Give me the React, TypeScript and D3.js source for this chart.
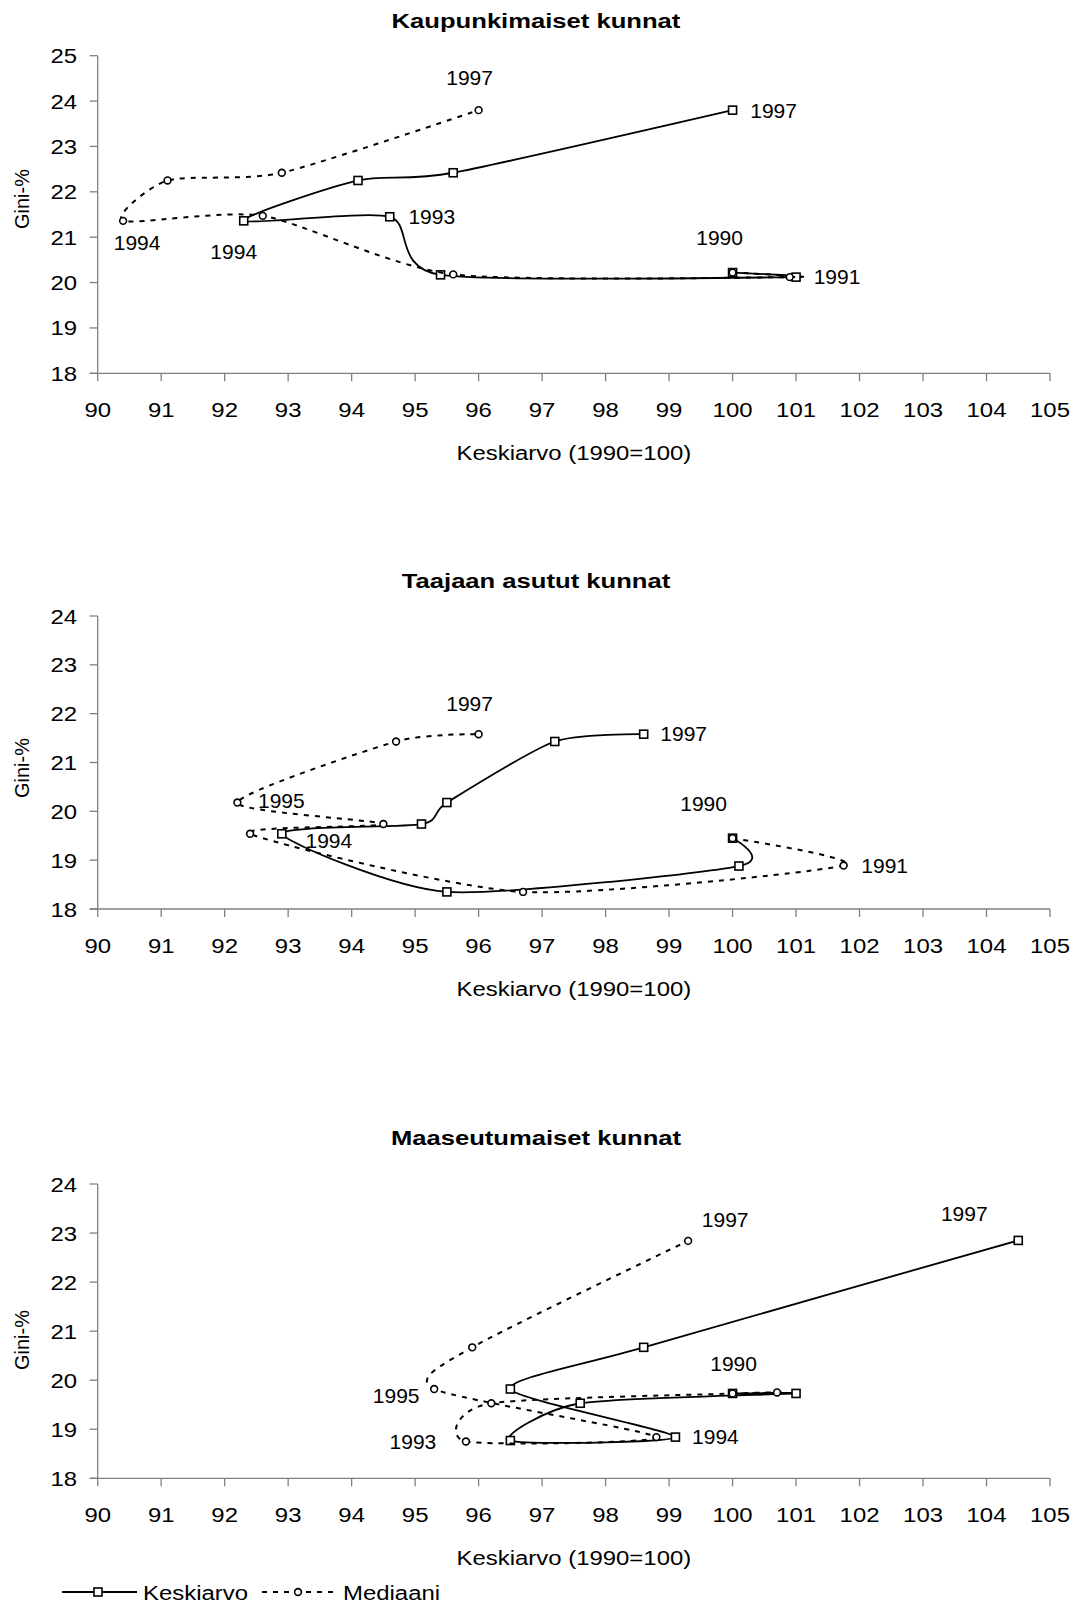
import * as d3 from 'd3';
import React from 'react';

// vuodet 1990..1997, x = keskiarvo (1990=100), y = Gini-%
const years = [1990, 1991, 1992, 1993, 1994, 1995, 1996, 1997];
const xTicks = [90, 91, 92, 93, 94, 95, 96, 97, 98, 99, 100, 101, 102, 103, 104, 105];

// Kaupunkimaiset kunnat
const kaupMeanX = [100, 101, 95.4, 94.6, 92.3, 94.1, 95.6, 100];
const kaupMeanY = [20.22, 20.12, 20.17, 21.45, 21.36, 22.25, 22.42, 23.8];
const kaupMedX = [100, 100.9, 95.6, 92.6, 90.4, 91.1, 92.9, 96];
const kaupMedY = [20.22, 20.12, 20.18, 21.47, 21.36, 22.25, 22.42, 23.8];

// Taajaan asutut kunnat
const taajMeanX = [100, 100.1, 95.5, 92.9, 95.1, 95.5, 97.2, 98.6];
const taajMeanY = [19.45, 18.88, 18.35, 19.54, 19.74, 20.18, 21.43, 21.58];
const taajMedX = [100, 101.75, 96.7, 92.4, 94.5, 92.2, 94.7, 96];
const taajMedY = [19.45, 18.89, 18.35, 19.54, 19.74, 20.18, 21.43, 21.58];

// Maaseutumaiset kunnat
const maasMeanX = [100, 101, 97.6, 96.5, 99.1, 96.5, 98.6, 104.5];
const maasMeanY = [19.73, 19.73, 19.53, 18.77, 18.84, 19.82, 20.67, 22.85];
const maasMedX = [100, 100.7, 96.2, 95.8, 98.8, 95.3, 95.9, 99.3];
const maasMedY = [19.73, 19.75, 19.53, 18.75, 18.84, 19.82, 20.67, 22.84];

type Pt = [number, number];
const zip = (xs: number[], ys: number[]): Pt[] => xs.map((v, i) => [v, ys[i]]);

const FONT = 'Liberation Sans, Arial, sans-serif';
const x = d3.scaleLinear().domain([90, 105]).range([97.7, 1050]);

function SText(props: any) {
  const { x, y, size = 21, sx = 1, anchor = 'middle', bold = false, children } = props;
  return (
    <text
      transform={`translate(${x},${y}) scale(${sx},1)`}
      fontSize={size}
      fontWeight={bold ? 'bold' : 'normal'}
      textAnchor={anchor}
      fill="#000"
    >
      {children}
    </text>
  );
}

function Chart(props: any) {
  const c = props.cfg;
  const y = d3.scaleLinear().domain([18, c.yMax]).range([c.bottom, c.top]);
  const yTicks = d3.range(18, c.yMax + 1);
  const line = d3
    .line<Pt>()
    .x((d) => x(d[0]))
    .y((d) => y(d[1]))
    .curve(d3.curveCardinal.tension(0.3));
  const mean = zip(c.meanX, c.meanY);
  const med = zip(c.medX, c.medY);

  return (
    <g>
      <SText x={536} y={c.titleY} bold sx={1.22}>{c.title}</SText>

      {/* akselit */}
      <line x1={x(90)} x2={x(90)} y1={c.top} y2={c.bottom} stroke="#808080" strokeWidth={1.3} />
      <line x1={x(90) - 8} x2={x(105)} y1={c.bottom} y2={c.bottom} stroke="#808080" strokeWidth={1.3} />
      {yTicks.map((t: number) => (
        <g key={'y' + t}>
          <line x1={x(90) - 8} x2={x(90)} y1={y(t)} y2={y(t)} stroke="#808080" strokeWidth={1.3} />
          <SText x={77} y={y(t) + 7.5} anchor="end" sx={1.14}>{t}</SText>
        </g>
      ))}
      {xTicks.map((t) => (
        <g key={'x' + t}>
          <line x1={x(t)} x2={x(t)} y1={c.bottom} y2={c.bottom + 8} stroke="#808080" strokeWidth={1.3} />
          <SText x={x(t)} y={c.bottom + 44} sx={1.14}>{t}</SText>
        </g>
      ))}
      <SText x={x(97.5)} y={c.bottom + 87} sx={1.14}>Keskiarvo (1990=100)</SText>
      <text
        transform={`translate(29,${c.yTitleY}) rotate(-90)`}
        fontSize={20}
        textAnchor="middle"
        fill="#000"
      >
        Gini-%
      </text>

      {/* Keskiarvo */}
      <path d={line(mean) || ''} fill="none" stroke="#000" strokeWidth={1.8} />
      {mean.map((d, i) => (
        <rect key={'m' + i} x={x(d[0]) - 4} y={y(d[1]) - 4} width={8} height={8}
          fill="#fff" stroke="#000" strokeWidth={1.6} />
      ))}

      {/* Mediaani */}
      <path d={line(med) || ''} fill="none" stroke="#000" strokeWidth={2} strokeDasharray="5 6" />
      {med.map((d, i) => (
        <circle key={'d' + i} cx={x(d[0])} cy={y(d[1])} r={3.4}
          fill="#fff" stroke="#000" strokeWidth={1.6} />
      ))}

      {/* vuosimerkinnät */}
      {c.notes.map((n: any, i: number) => {
        const idx = years.indexOf(n.year);
        const p = n.s === 'mean' ? mean[idx] : med[idx];
        return (
          <SText key={'n' + i} x={x(p[0]) + n.dx} y={y(p[1]) + n.dy + 7.5}>
            {n.label || n.year}
          </SText>
        );
      })}
    </g>
  );
}

const charts = [
  {
    title: 'Kaupunkimaiset kunnat', yMax: 25, top: 55.7, bottom: 373.3, titleY: 28, yTitleY: 199,
    meanX: kaupMeanX, meanY: kaupMeanY, medX: kaupMedX, medY: kaupMedY,
    notes: [
      { s: 'med', year: 1997, dx: -9, dy: -33 },
      { s: 'mean', year: 1997, dx: 41, dy: 0 },
      { s: 'med', year: 1994, dx: 14, dy: 22 },
      { s: 'mean', year: 1994, dx: -10, dy: 31 },
      { s: 'mean', year: 1993, dx: 42, dy: 0 },
      { s: 'mean', year: 1990, dx: -13, dy: -35 },
      { s: 'mean', year: 1991, dx: 41, dy: -1 },
    ],
  },
  {
    title: 'Taajaan asutut kunnat', yMax: 24, top: 616, bottom: 909, titleY: 588, yTitleY: 768,
    meanX: taajMeanX, meanY: taajMeanY, medX: taajMedX, medY: taajMedY,
    notes: [
      { s: 'med', year: 1997, dx: -9, dy: -31 },
      { s: 'mean', year: 1997, dx: 40, dy: -1 },
      { s: 'med', year: 1995, dx: 44, dy: -2 },
      { s: 'mean', year: 1993, label: 1994, dx: 47, dy: 7 },
      { s: 'mean', year: 1990, dx: -29, dy: -35 },
      { s: 'med', year: 1991, dx: 41, dy: 0 },
    ],
  },
  {
    title: 'Maaseutumaiset kunnat', yMax: 24, top: 1184, bottom: 1478.3, titleY: 1145, yTitleY: 1340,
    meanX: maasMeanX, meanY: maasMeanY, medX: maasMedX, medY: maasMedY,
    notes: [
      { s: 'med', year: 1997, dx: 37, dy: -21 },
      { s: 'mean', year: 1997, dx: -54, dy: -27 },
      { s: 'mean', year: 1990, dx: 1, dy: -30 },
      { s: 'med', year: 1995, dx: -38, dy: 6 },
      { s: 'med', year: 1993, dx: -53, dy: 0 },
      { s: 'mean', year: 1994, dx: 40, dy: -1 },
    ],
  },
];

export default function App() {
  const ly = 1592;
  return (
    <svg
      width={1077}
      height={1607}
      style={{ position: 'absolute', left: 0, top: 0, background: '#fff' }}
      fontFamily={FONT}
    >
      <rect width={1077} height={1607} fill="#fff" />
      {charts.map((c, i) => (
        <Chart key={i} cfg={c} />
      ))}
      {/* selite */}
      <line x1={62} x2={137} y1={ly} y2={ly} stroke="#000" strokeWidth={1.8} />
      <rect x={94} y={ly - 4} width={8} height={8} fill="#fff" stroke="#000" strokeWidth={1.6} />
      <SText x={143} y={ly + 7.5} anchor="start" sx={1.14}>Keskiarvo</SText>
      <line x1={262} x2={337} y1={ly} y2={ly} stroke="#000" strokeWidth={2} strokeDasharray="5 6" />
      <circle cx={298} cy={ly} r={3.4} fill="#fff" stroke="#000" strokeWidth={1.6} />
      <SText x={343} y={ly + 7.5} anchor="start" sx={1.14}>Mediaani</SText>
    </svg>
  );
}
